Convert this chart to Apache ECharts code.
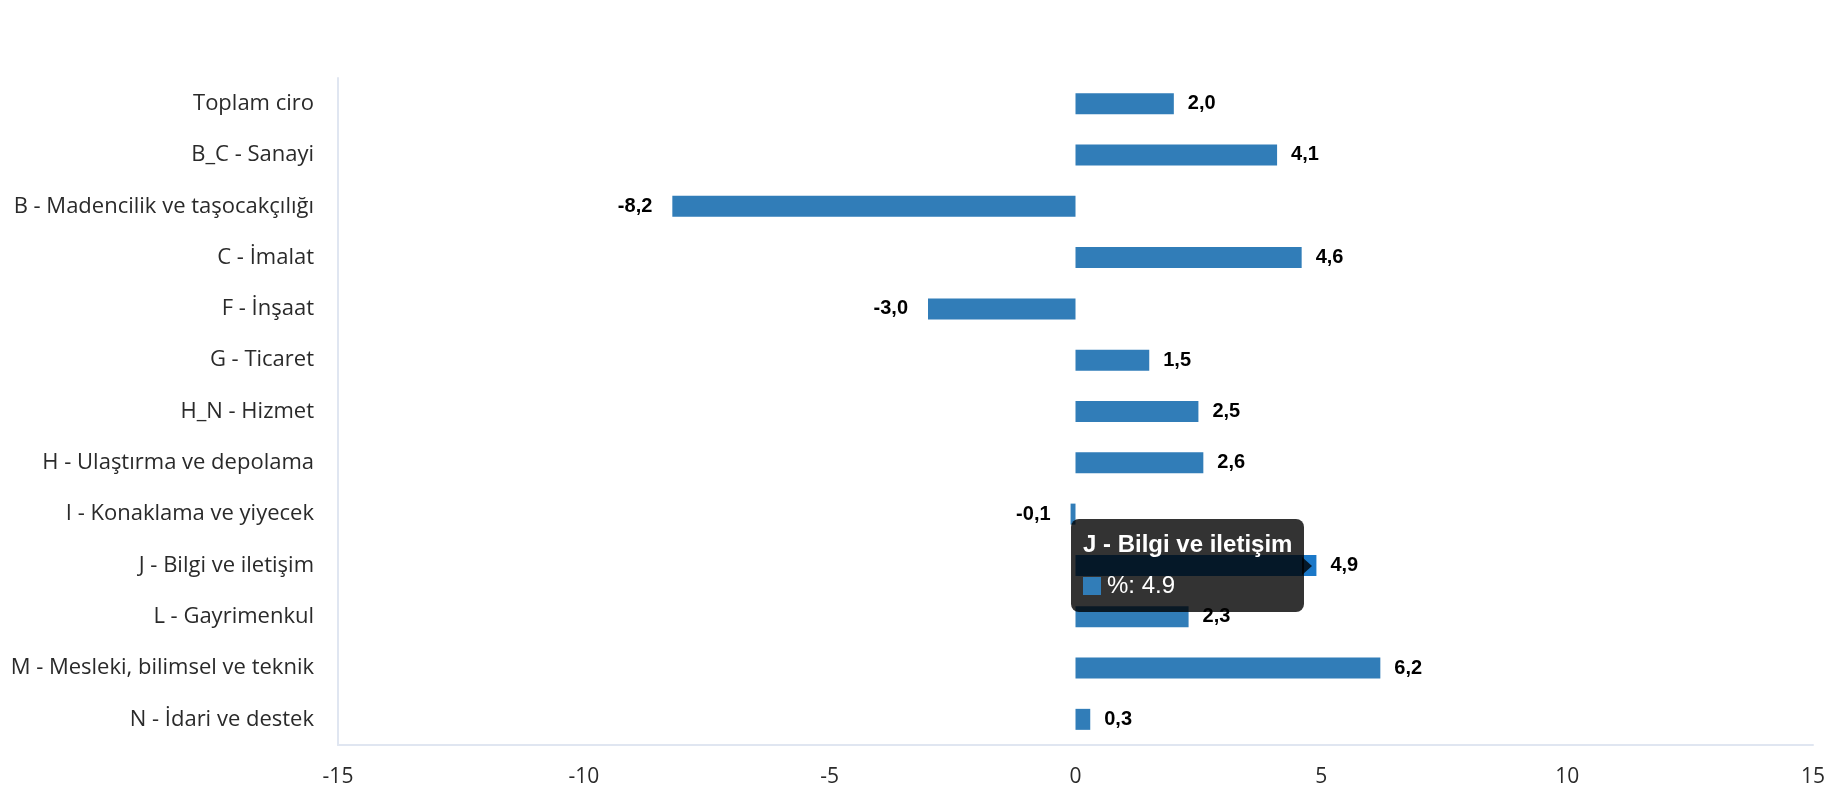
<!DOCTYPE html>
<html>
<head>
<meta charset="utf-8">
<script src="https://cdn.jsdelivr.net/npm/echarts@6/dist/echarts.min.js"></script>
<style>
html,body{margin:0;padding:0;background:#fff;}
#chart{width:1830px;height:800px;}
</style>
</head>
<body>
<div id="chart"></div>
<script>
const categories = [
  'Toplam ciro',
  'B_C - Sanayi',
  'B - Madencilik ve taşocakçılığı',
  'C - İmalat',
  'F - İnşaat',
  'G - Ticaret',
  'H_N - Hizmet',
  'H - Ulaştırma ve depolama',
  'I - Konaklama ve yiyecek',
  'J - Bilgi ve iletişim',
  'L - Gayrimenkul',
  'M - Mesleki, bilimsel ve teknik',
  'N - İdari ve destek'
];
const values = [2.0, 4.1, -8.2, 4.6, -3.0, 1.5, 2.5, 2.6, -0.1, 4.9, 2.3, 6.2, 0.3];
const seriesName = '%';
const xTicks = [-15, -10, -5, 0, 5, 10, 15];
const highlightIndex = 9;

const BAR = '#317db8';
const chart = echarts.init(document.getElementById('chart'), null, {renderer: 'canvas'});

const option = {
  animation: false,
  grid: {left: 338, right: 17, top: 78, bottom: 55, containLabel: false},
  tooltip: {
    trigger: 'item',
    alwaysShowContent: true,
    transitionDuration: 0,
    backgroundColor: 'rgba(0,0,0,0.8)',
    borderWidth: 0,
    borderRadius: 8,
    padding: [4, 12, 7, 12],
    extraCssText: 'box-shadow:none;overflow:visible;',
    textStyle: {color: '#fff', fontSize: 24, fontFamily: 'Liberation Sans, Arial, sans-serif'},
    position: function (point, params, dom, rect, size) {
      const h = size.contentSize[1];
      if (rect) return [rect.x - 5, rect.y + rect.height / 2 - h / 2];
      const p = chart.convertToPixel({gridIndex: 0}, [0, params.dataIndex]);
      return [p[0] - 5, point[1] - h / 2];
    },
    formatter: function (p) {
      return '<div style="position:relative;">' +
        '<div style="font-weight:bold;font-size:24px;line-height:41px;color:#fff;">' + p.name + '</div>' +
        '<div style="line-height:41px;font-size:24px;color:#fff;">' +
        '<span style="display:inline-block;width:18px;height:18px;background:' + BAR + ';margin-right:6px;vertical-align:-2px;"></span>' +
        p.seriesName + ': ' + p.value + '</div>' +
        '</div>' +
        '<div style="position:absolute;right:-8px;top:50%;margin-top:-9px;width:0;height:0;border-top:9px solid transparent;border-bottom:9px solid transparent;border-left:10px solid rgba(0,0,0,0.8);"></div>';
    }
  },
  xAxis: {
    type: 'value',
    min: -15,
    max: 15,
    interval: 5,
    axisLine: {show: true, onZero: false, lineStyle: {color: '#e0e6f1', width: 2}},
    axisTick: {show: false},
    splitLine: {show: false},
    axisLabel: {
      color: '#2a2a2a',
      fontSize: 21,
      fontFamily: 'Open Sans, Noto Sans, sans-serif',
      margin: 22,
      formatter: function (v) { return xTicks.indexOf(v) >= 0 ? String(v) : ''; }
    }
  },
  yAxis: {
    type: 'category',
    inverse: true,
    data: categories,
    axisLine: {show: true, onZero: false, lineStyle: {color: '#e0e6f1', width: 2}},
    axisTick: {show: false},
    splitLine: {show: false},
    axisLabel: {
      color: '#2a2a2a',
      fontSize: 22,
      fontFamily: 'Open Sans, Noto Sans, sans-serif',
      margin: 24
    }
  },
  series: [{
    name: seriesName,
    type: 'bar',
    barWidth: 21,
    itemStyle: {color: BAR},
    emphasis: {itemStyle: {color: '#1b78c8'}},
    label: {
      show: true,
      color: '#000',
      fontWeight: 'bold',
      fontSize: 20,
      fontFamily: 'Liberation Sans, Arial, sans-serif',
      formatter: function (p) { return p.value.toFixed(1).replace('.', ','); }
    },
    data: values.map(function (v) {
      return {
        value: v,
        label: v < 0 ? {position: 'left', distance: 20} : {position: 'right', distance: 14}
      };
    })
  }]
};

chart.setOption(option);
chart.dispatchAction({type: 'highlight', seriesIndex: 0, dataIndex: highlightIndex});
chart.dispatchAction({type: 'showTip', seriesIndex: 0, dataIndex: highlightIndex});
</script>
</body>
</html>
